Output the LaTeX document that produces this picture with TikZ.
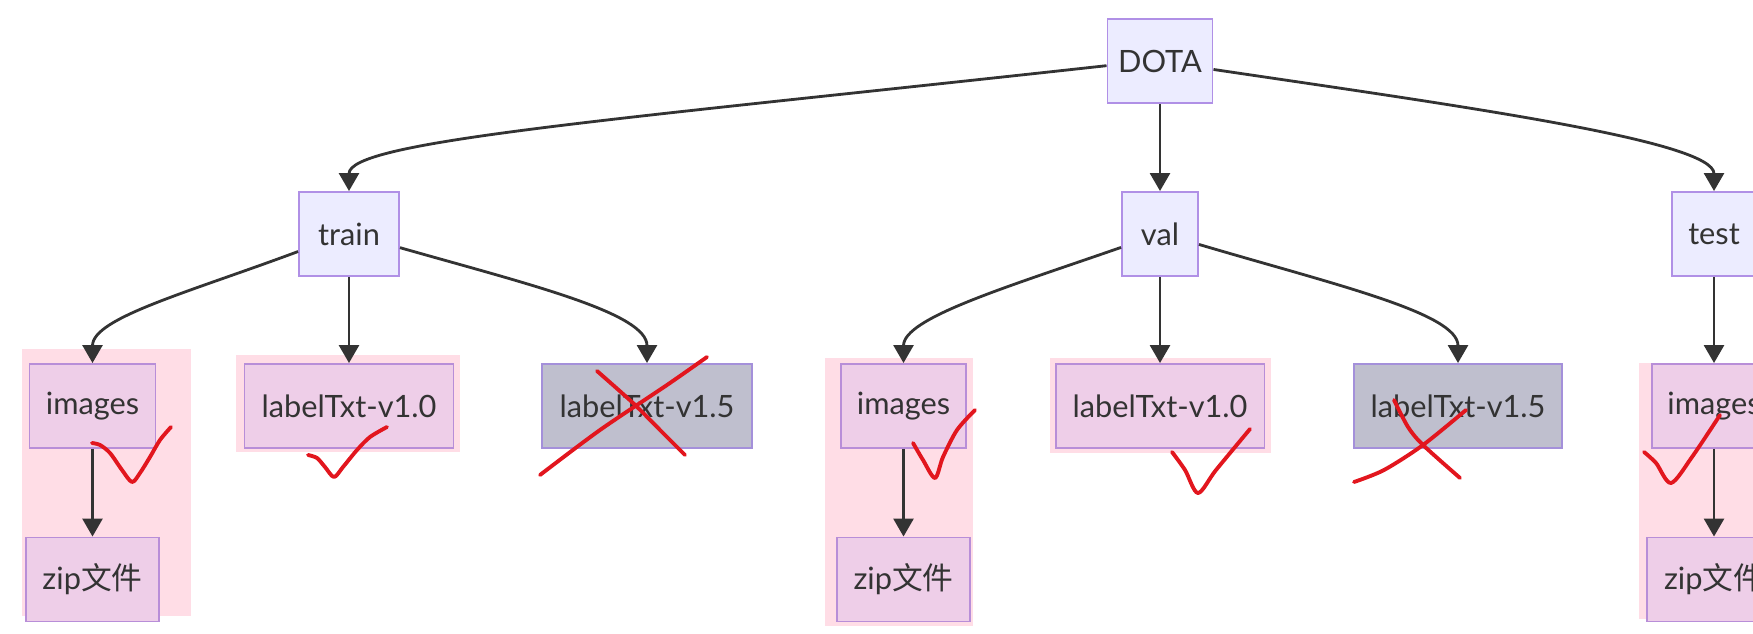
\documentclass[tikz,border=0pt]{standalone}
\usepackage{fontspec}
\setmainfont{Lato}
\newfontfamily\cjk{Noto Sans CJK SC}
\usepackage{xcolor}
\usetikzlibrary{arrows.meta}

\definecolor{nodefill}{RGB}{236,236,255}
\definecolor{nodeline}{RGB}{176,144,230}
\definecolor{pickfill}{RGB}{238,206,232}
\definecolor{pickline}{RGB}{184,142,216}
\definecolor{markbg}{RGB}{255,221,230}
\definecolor{dropfill}{RGB}{191,191,206}
\definecolor{dropline}{RGB}{164,144,218}
\definecolor{darkline}{RGB}{51,51,51}
\definecolor{inkred}{RGB}{226,22,30}

\begin{document}
\begin{tikzpicture}[x=0.02cm, y=-0.02cm, font=\fontsize{17.5}{21}\selectfont, text=darkline,
  dirbox/.style={draw=nodeline, fill=nodefill, line width=1.1pt, minimum height=1.68cm, inner sep=0pt},
  picked/.style={dirbox, draw=pickline, fill=pickfill},
  dropped/.style={dirbox, draw=dropline, fill=dropfill},
  link/.style={draw=darkline, line width=1.6pt, -{Triangle[length=0.36cm, width=0.4cm]}},
  redmark/.style={draw=inkred, line width=2.2pt, line cap=round, line join=round}]
  \useasboundingbox (0,0) rectangle (1753,634);
  \clip (0,0) rectangle (1753,634);

  % highlighted parts
  \fill[markbg] (22,349) rectangle (191,616);
  \fill[markbg] (236,355) rectangle (460,452);
  \fill[markbg] (825,358) rectangle (973,626);
  \fill[markbg] (1050,358) rectangle (1271,453);
  \fill[markbg] (1639,363) rectangle (1770,619);

  \node[dirbox, minimum width=2.1cm] (dota) at (1160,61) {DOTA};
  \node[dirbox, minimum width=2cm] (train) at (349,234) {train};
  \node[dirbox, minimum width=1.52cm] (val) at (1160,234) {val};
  \node[dirbox, minimum width=1.7cm] (test) at (1714,234) {test};

  \node[picked, minimum width=2.52cm] (trimg) at (92.5,406) {images};
  \node[picked, minimum width=4.18cm] (trv10) at (349,406) {labelTxt-v1.0};
  \node[dropped, minimum width=4.2cm] (trv15) at (647,406) {labelTxt-v1.5};
  \node[picked, minimum width=2.66cm] (trzip) at (92.5,579.5) {zip{\cjk 文件}};

  \node[picked, minimum width=2.5cm] (vaimg) at (903.5,406) {images};
  \node[picked, minimum width=4.18cm] (vav10) at (1160,406) {labelTxt-v1.0};
  \node[dropped, minimum width=4.16cm] (vav15) at (1458,406) {labelTxt-v1.5};
  \node[picked, minimum width=2.66cm] (vazip) at (903.5,579.5) {zip{\cjk 文件}};

  \node[picked, minimum width=2.48cm] (teimg) at (1714,406) {images};
  \node[picked, minimum width=2.68cm] (tezip) at (1714,579.5) {zip{\cjk 文件}};

  \draw[link] (dota.185) .. controls +(-500,55) and +(0,-50) .. (train.north);
  \draw[link] (dota) -- (val);
  \draw[link] (dota.351) .. controls +(250,37) and +(0,-50) .. (test.north);

  \draw[link] (train.199) .. controls +(-110,41) and +(0,-45) .. (trimg.north);
  \draw[link] (train) -- (trv10);
  \draw[link] (train.345) .. controls +(130,37) and +(0,-50) .. (trv15.north);
  \draw[link] (trimg) -- (trzip);

  \draw[link] (val.199) .. controls +(-115,40) and +(0,-45) .. (vaimg.north);
  \draw[link] (val) -- (vav10);
  \draw[link] (val.345) .. controls +(135,40) and +(0,-50) .. (vav15.north);
  \draw[link] (vaimg) -- (vazip);

  \draw[link] (test) -- (teimg);
  \draw[link] (teimg) -- (tezip);

  % ticks and crosses
  \draw[redmark] plot[smooth] coordinates {(92,443) (100,445) (110,453) (122,470) (132,482) (140,473) (150,457) (160,440) (171,427)};
  \draw[redmark] plot[smooth] coordinates {(308,455) (317,458) (325,467) (334,477) (343,467) (357,450) (370,437) (387,427)};
  \draw[redmark] plot[smooth] coordinates {(540,475) (600,430) (667,385) (707,357)};
  \draw[redmark] plot[smooth] coordinates {(597,371) (633,403) (660,430) (685,455)};
  \draw[redmark] plot[smooth] coordinates {(913,443) (923,460) (935,478) (943,457) (957,430) (975,410)};
  \draw[redmark] plot[smooth] coordinates {(1172,452) (1185,470) (1198,493) (1216,470) (1250,429)};
  \draw[redmark] plot[smooth] coordinates {(1354,482) (1384,470) (1423,445) (1466,410)};
  \draw[redmark] plot[smooth] coordinates {(1394,400) (1408,427) (1423,445) (1460,478)};
  \draw[redmark] plot[smooth] coordinates {(1644,452) (1656,463) (1671,483) (1692,457) (1720,415)};
\end{tikzpicture}
\end{document}
